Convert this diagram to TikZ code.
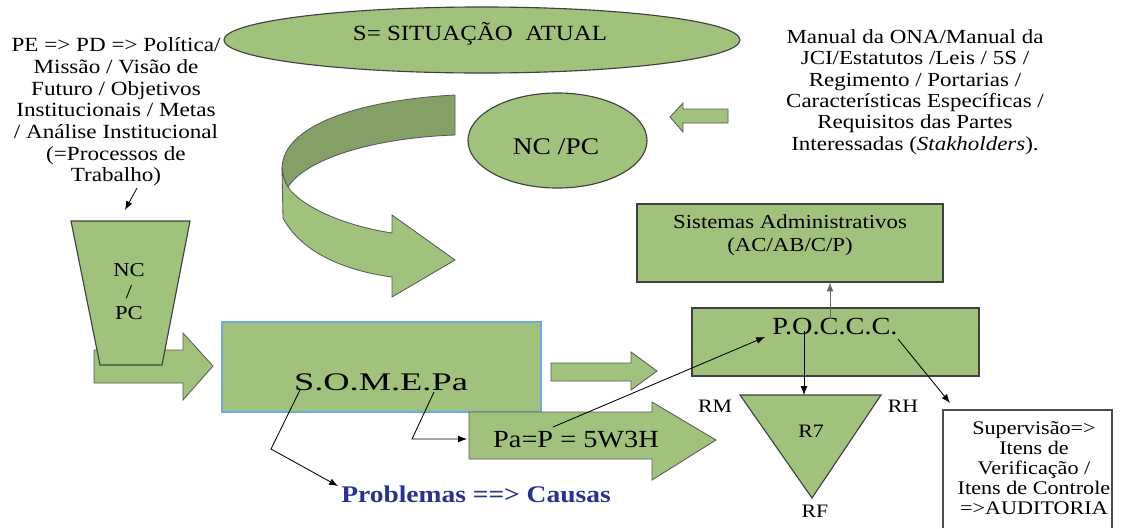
\documentclass[tikz,border=0pt]{standalone}
\usepackage{fontspec}
\setmainfont{Liberation Serif}
\usetikzlibrary{shapes.geometric,arrows.meta,positioning}

\definecolor{leaf}{RGB}{161,194,124}
\definecolor{leafdark}{RGB}{132,160,102}
\definecolor{somblue}{RGB}{110,170,222}
\definecolor{probblue}{RGB}{40,52,140}

\tikzset{
  grnbox/.style={draw=black!75, fill=leaf, line width=0.8pt, inner sep=0pt},
  blockarr/.style={draw=black!65, fill=leaf, line width=0.6pt},
  conn/.style={-{Latex[length=2.2mm,width=1.7mm]}, line width=0.6pt},
  txt/.style={align=center, inner sep=0pt, xscale=1.15, transform shape}
}

\begin{document}
\begin{tikzpicture}[x=0.025cm, y=-0.025cm]
\useasboundingbox (0,0) rectangle (1125,528);

% S = situacao atual
\node [ellipse, grnbox, minimum width=12.9cm, minimum height=1.65cm] (sit) at (482,40) {};
\node [txt, font=\fontsize{15.4}{18}\selectfont] (sittxt) at (480,34) {S= SITUAÇÃO\ \ ATUAL};

% PE / PD
\node [txt, font=\fontsize{14.3}{15.4}\selectfont] (pe) at (116,112) {PE => PD => Política/\\ Missão / Visão de\\ Futuro / Objetivos\\ Institucionais / Metas\\ / Análise Institucional\\ (=Processos de\\ Trabalho)};
\coordinate (pestart) at (137,188);
\coordinate (peend) at (125,210);
\draw [conn] (pestart) -- (peend);

% funil NC / PC
\draw [blockarr] (94,350) -- (183,350) -- (183,333) -- (213,366) -- (183,400) -- (183,383) -- (94,383) -- cycle;
\draw [grnbox] (71,221) -- (190,221) -- (162,365) -- (100,365) -- cycle;
\node [txt, font=\fontsize{14}{15.3}\selectfont] (funil) at (129,292) {NC\\/\\PC};

% seta curva
\draw [blockarr, fill=leafdark] (455,95) -- (455,135) .. controls (370,138) and (305,160) .. (288,187)
      .. controls (284,180) .. (282,168) .. controls (283,125) and (360,100) .. (455,95) -- cycle;
\draw [blockarr] (282,168) -- (283,218) .. controls (300,250) and (340,270) .. (392,277) -- (392,297) -- (455,260)
      -- (392,215) -- (392,233) .. controls (340,225) and (300,205) .. (288,187) .. controls (284,180) .. (282,168) -- cycle;

% NC / PC
\node [ellipse, grnbox, minimum width=4.475cm, minimum height=2.375cm] (ncpc) at (557.5,140.5) {};
\node [txt, font=\fontsize{17}{19}\selectfont] (ncpctxt) at (556,147) {NC /PC};
\draw [blockarr] (670,117) -- (683,103) -- (683,109) -- (728,109) -- (728,123) -- (683,123) -- (683,132) -- cycle;

% referencias
\node [txt, font=\fontsize{14.2}{15.2}\selectfont] (refs) at (915,92) {Manual da ONA/Manual da\\ JCI/Estatutos /Leis / 5S /\\ Regimento / Portarias /\\ Características Específicas /\\ Requisitos das Partes\\ Interessadas (\textit{Stakholders}).};

% S.O.M.E.Pa
\node [draw=somblue, fill=leaf, line width=0.8pt, inner sep=0pt, minimum width=7.975cm, minimum height=2.25cm] (somepa) at (381.5,367) {};
\node [txt, xscale=1.25, font=\fontsize{18}{20}\selectfont] (someptxt) at (381,382) {S.O.M.E.Pa};
\draw [blockarr] (551,363) -- (631,363) -- (631,352) -- (657,371) -- (631,390) -- (631,381) -- (551,381) -- cycle;
\draw [blockarr] (469,412) -- (652,412) -- (652,402) -- (716,440) -- (652,480) -- (652,459) -- (469,459) -- cycle;
\node [txt, font=\fontsize{17.5}{19}\selectfont] (pa) at (576,440) {Pa=P = 5W3H};
\node [txt, font=\bfseries\fontsize{17}{19}\selectfont, text=probblue] (prob) at (476,494) {Problemas ==> Causas};

% sistemas / POCCC
\node [grnbox, minimum width=7.65cm, minimum height=1.95cm] (sist) at (790,243) {};
\node [txt, font=\fontsize{14.1}{16.3}\selectfont] (sisttxt) at (790,235) {Sistemas Administrativos\\ (AC/AB/C/P)};
\node [grnbox, minimum width=7.175cm, minimum height=1.7cm] (poccc) at (835.5,342) {};
\node [txt, font=\fontsize{17.5}{19}\selectfont] (poccctxt) at (835,327) {P.O.C.C.C.};

% triangulo R7
\coordinate (tl) at (740,395);
\coordinate (tr) at (881,395);
\coordinate (tb) at (812,498);
\draw [grnbox] (tl) -- (tr) -- (tb) -- cycle;
\node [txt, font=\fontsize{13.5}{15}\selectfont] (r7) at (811,431) {R7};
\node [txt, font=\fontsize{13.5}{15}\selectfont] (rm) at (715,406) {RM};
\node [txt, font=\fontsize{13.5}{15}\selectfont] (rh) at (903,406) {RH};
\node [txt, font=\fontsize{13.5}{15}\selectfont] (rf) at (815,511) {RF};

% supervisao
\draw [fill=white, draw=black!70, line width=0.8pt] (943,528) -- (943,410) -- (1112,410) -- (1112,528);
\node [txt, font=\fontsize{13.7}{14.2}\selectfont] (sup) at (1034,468) {Supervisão=>\\ Itens de\\ Verificação /\\ Itens de Controle\\ =>AUDITORIA};

% ligacoes
\coordinate (up) at (830,319);
\draw [conn, black!60] (up) -- (up |- sist.south);
\coordinate (down) at (804,331);
\draw [conn] (down) -- (down |- tl);
\coordinate (supa) at (898,339);
\coordinate (supb) at (950,403);
\draw [conn] (supa) -- (supb);
\coordinate (pastart) at (553,427);
\coordinate (paend) at (765,337);
\draw [conn] (pastart) -- (paend);
\coordinate (sa) at (434,392);
\draw [conn] (sa) -- (412,439) -- (467,439);
\coordinate (ss) at (300,390);
\draw [conn] (ss) -- (271,449) -- (338,486);

\end{tikzpicture}
\end{document}
